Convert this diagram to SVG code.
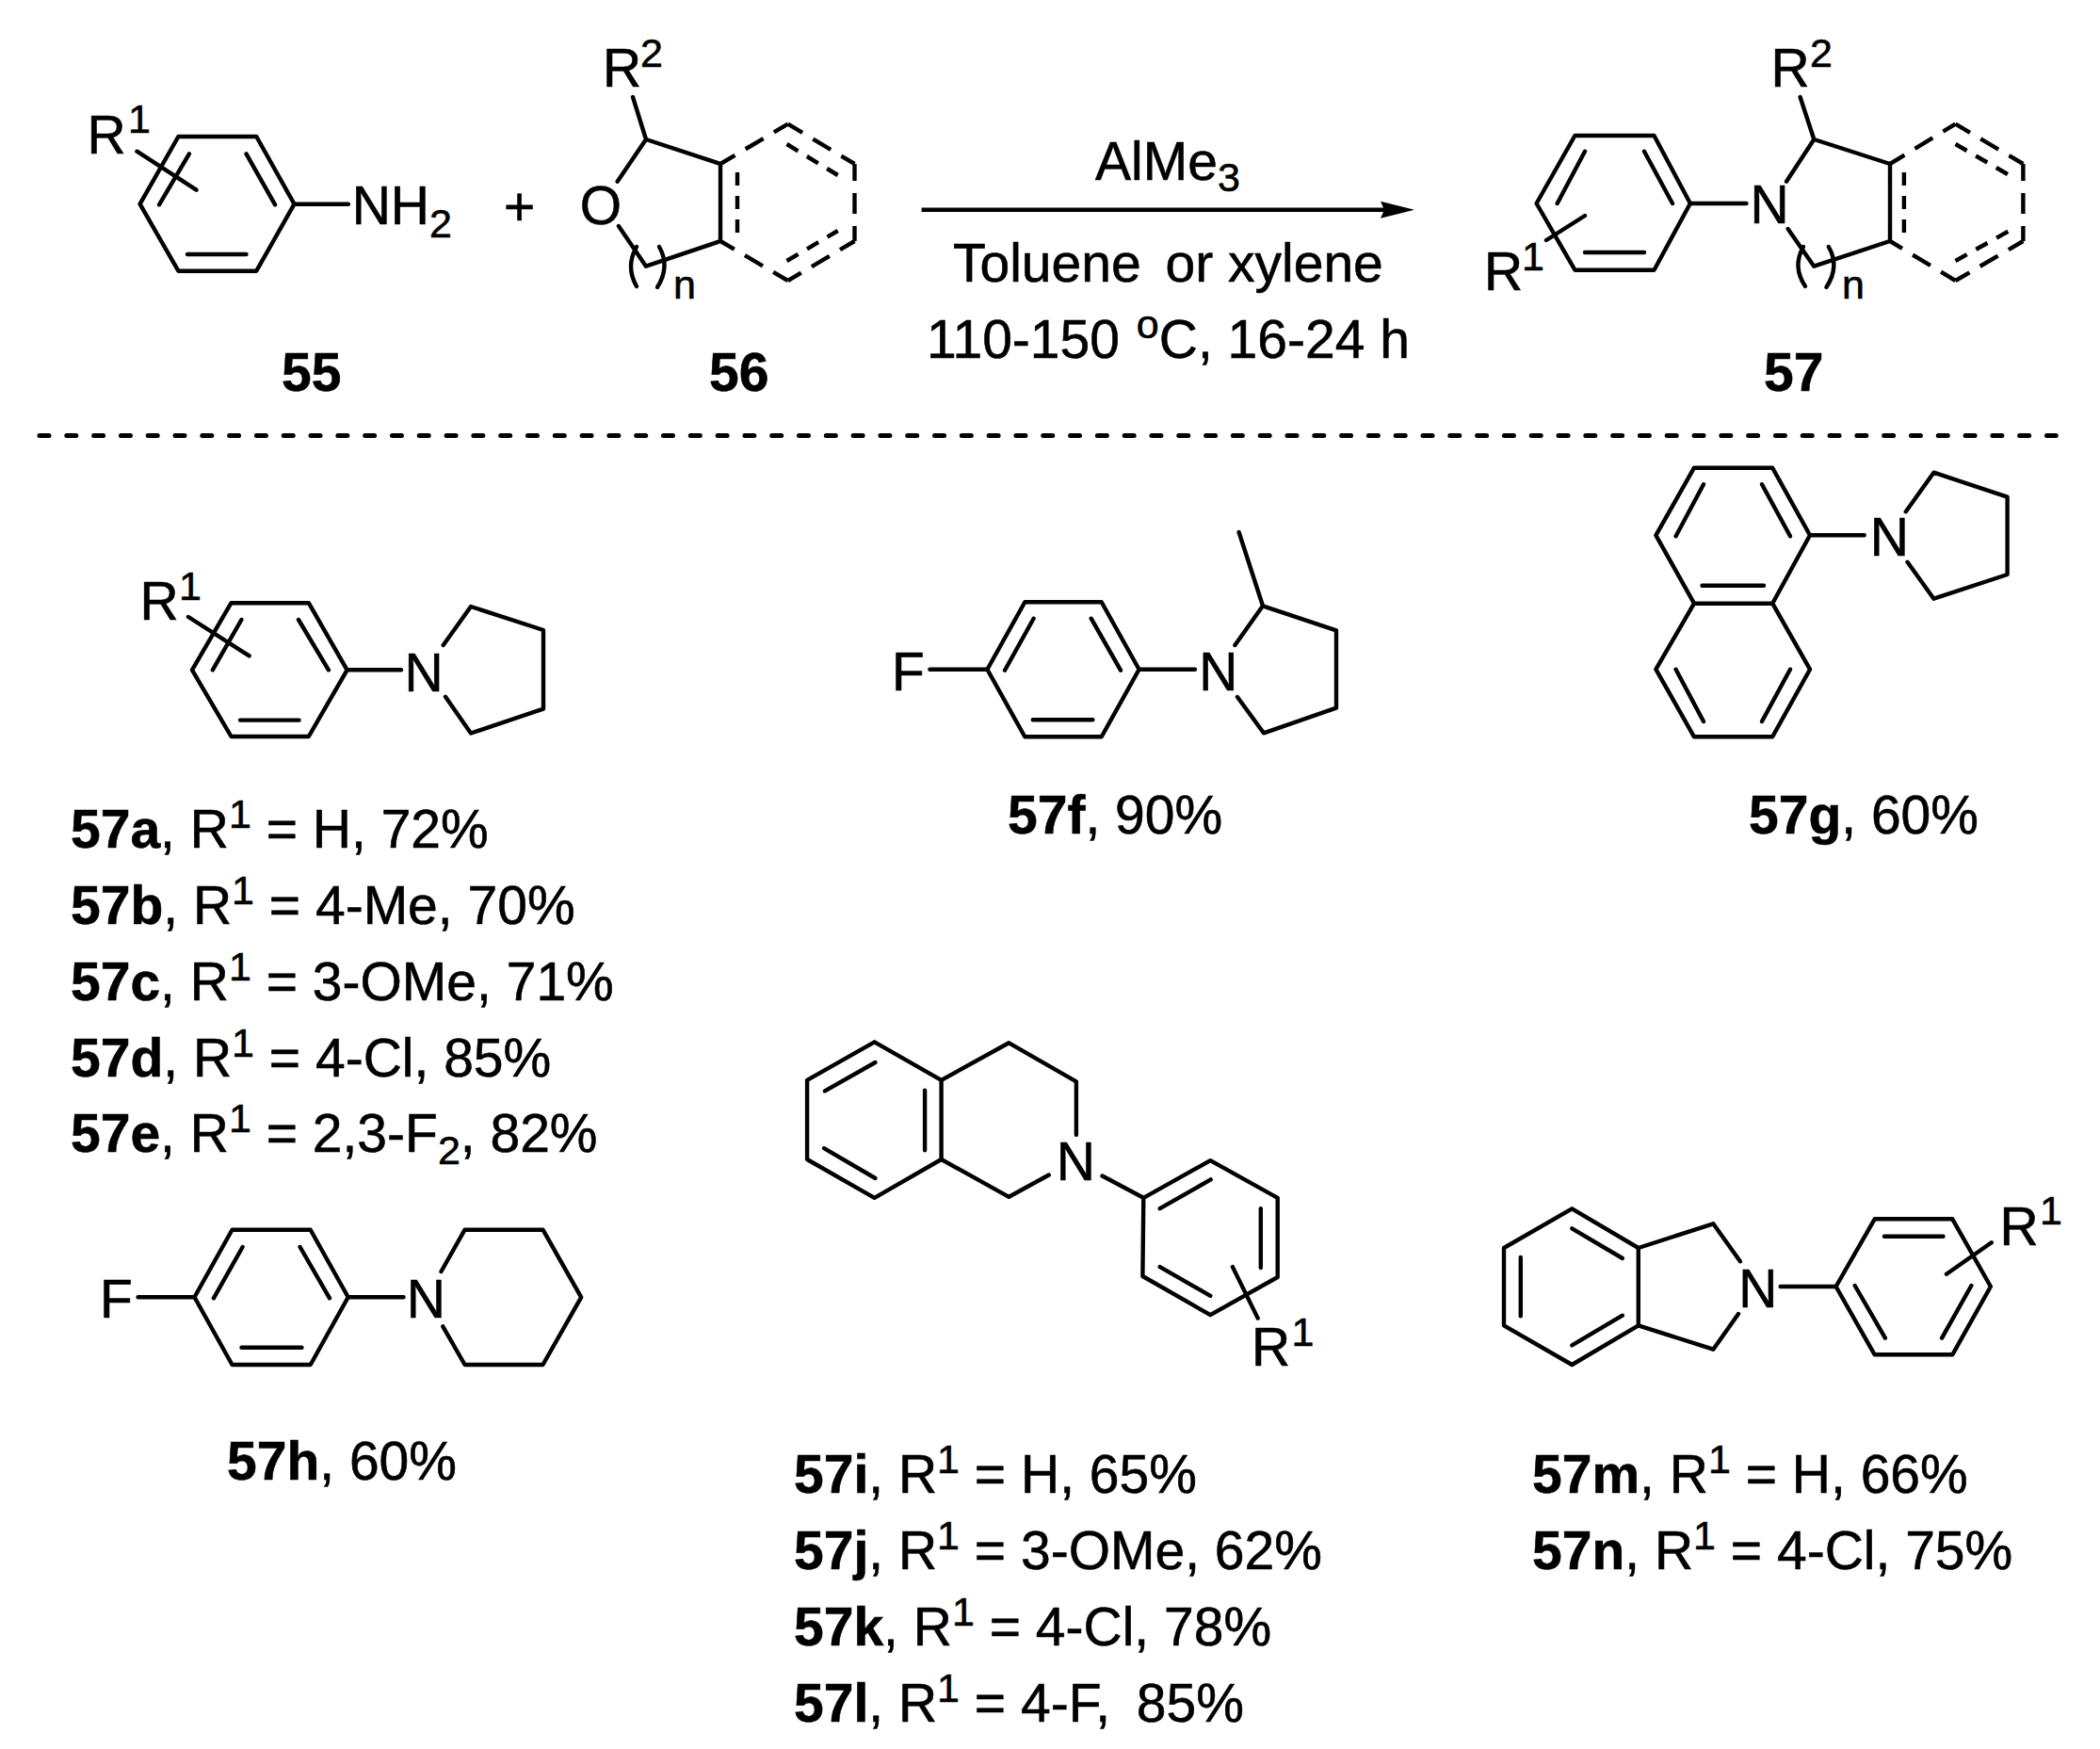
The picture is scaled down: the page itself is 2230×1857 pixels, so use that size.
<svg xmlns="http://www.w3.org/2000/svg" width="2230" height="1857" viewBox="0 0 2230 1857">
<style>
text{font-family:"Liberation Sans",Arial,sans-serif;font-size:57px;fill:#000;stroke:#000;stroke-width:.6}
.b{font-weight:700}
.s{font-size:43px}
path{fill:none;stroke:#000;stroke-width:4.4;stroke-linejoin:round;stroke-linecap:round}
.d{stroke-dasharray:18 13 22 13 18 0;stroke-linecap:butt}
.d2{stroke-dasharray:14 11;stroke-linecap:butt}
.sep{stroke-dasharray:10 18.804;stroke-linecap:round;stroke-width:5}
.arrow{stroke-width:4.4;stroke-linecap:butt}
.head{fill:#000;stroke:none}
</style>
<defs>
<marker id="ah" markerUnits="userSpaceOnUse" markerWidth="38" markerHeight="22" refX="4" refY="11" orient="auto"><path class="head" d="M0,2 L36,11 L0,20 L4,11 Z"/></marker>
</defs>
<rect width="2230" height="1857" fill="#fff"/>

<g id="connectors">
<path class="arrow" d="M978.6,222.7H1470" marker-end="url(#ah)"/>
<path class="sep" d="M42,462.5H2183.2"/>
</g>

<g id="compound-55">
<path d="M189.4,145H272.3L312.5,216.7L272.3,287.7H189.4L148.6,216.7Z"/>
<path d="M200.9,163.3L169,217.3M261.5,163.3L292.1,217.3M199,270H261.5M312.5,216.7H369.9M145.4,160.7L208.5,201.7"/>
<text x="92.6" y="163">R</text><text class="s" x="136" y="140.7">1</text>
<text x="373.7" y="238">NH</text><text class="s" x="456" y="251.7">2</text>
<text class="b" x="299" y="415">55</text>
</g>
<text id="plus" x="551.7" y="238.6" text-anchor="middle">+</text>

<g id="compound-56">
<text x="638" y="238" text-anchor="middle">O</text>
<text x="640" y="92">R</text><text class="s" x="680" y="70.7">2</text>
<path d="M672,103L686,148L765,174V256L686,282.7L656.9,240M686,148L655.6,192.7"/>
<path class="d" d="M765,174L836.7,131.7M836.7,131.7L907.5,174M907.5,174V256M907.5,256L836.7,298M836.7,298L765,256"/>
<path class="d2" d="M783,183V247M835.5,153L889.7,186M835.5,277L889.7,245"/>
<path d="M676,262Q664,283 676,304M700,262Q712,283 698,305"/>
<text class="s" x="715" y="317">n</text>
<text class="b" x="753" y="415">56</text>
</g>

<g id="conditions">
<text x="1163" y="190.7">AlMe</text><text class="s" x="1293" y="203.3">3</text>
<text x="1012" y="299">Toluene <tspan dx="10">or xylene</tspan></text>
<text x="984" y="380">110-150 <tspan class="s" dy="-21" dx="2">o</tspan><tspan dy="21">C, 16-24 h</tspan></text>
</g>

<g id="compound-57">
<path d="M1672.4,144H1756.5L1794.9,216L1756.5,286.7H1672.4L1631.6,216Z"/>
<path d="M1683,160.7L1653.7,216M1746,160.7L1776,216M1683,268H1746M1794.9,216H1854.5M1683,229L1642,255"/>
<text x="1858.5" y="237">N</text>
<text x="1576" y="308">R</text><text class="s" x="1616" y="286.7">1</text>
<text x="1880.5" y="92">R</text><text class="s" x="1922" y="70.7">2</text>
<path d="M1911.6,103L1926.3,148L2007,174V256L1926.3,282.7L1898.6,243M1926.3,148L1897,192.7"/>
<path class="d" d="M2007,174L2076.5,131.7M2076.5,131.7L2148.4,174M2148.4,174V256M2148.4,256L2076.5,298M2076.5,298L2007,256"/>
<path class="d2" d="M2021.9,183V247M2076.5,153L2133.7,186M2076.5,277L2133.7,245"/>
<path d="M1915,262Q1903,283 1917,304M1941.8,262Q1954,283 1939.4,305"/>
<text class="s" x="1956" y="317">n</text>
<text class="b" x="1873" y="415">57</text>
</g>

<g id="compound-57a-e">
<path d="M245.5,640.2H327.8L368.6,711.3L327.8,782H245.5L204,711.3Z"/>
<path d="M256.4,658L225.8,711.3M317,658L348.9,711.3M255,764.6H317.6M368.6,711.3H426M200,655L264.7,696.4"/>
<path d="M470.7,685L500,644L577,669V752.6L500,778.5L473,739.7"/>
<text x="429.5" y="733.7">N</text>
<text x="148.6" y="657.6">R</text><text class="s" x="190" y="636.7">1</text>
<text x="75" y="900"><tspan class="b">57a</tspan>, R<tspan class="s" dy="-21">1</tspan><tspan dy="21"> = H, 72%</tspan></text>
<text x="75" y="981"><tspan class="b">57b</tspan>, R<tspan class="s" dy="-21">1</tspan><tspan dy="21"> = 4-Me, 70%</tspan></text>
<text x="75" y="1061.6"><tspan class="b">57c</tspan>, R<tspan class="s" dy="-21">1</tspan><tspan dy="21"> = 3-OMe, 71%</tspan></text>
<text x="75" y="1142.7"><tspan class="b">57d</tspan>, R<tspan class="s" dy="-21">1</tspan><tspan dy="21"> = 4-Cl, 85%</tspan></text>
<text x="75" y="1223"><tspan class="b">57e</tspan>, R<tspan class="s" dy="-21">1</tspan><tspan dy="21"> = 2,3-F</tspan><tspan class="s" dy="13">2</tspan><tspan dy="-13">, 82%</tspan></text>
</g>

<g id="compound-57f">
<path d="M1088.3,639.3H1169.7L1209.6,710.7L1169.7,782.3H1088.3L1048.4,710.7Z"/>
<path d="M1097.6,656.7L1067,711.7M1158.7,656.7L1190,711.7M1096.8,764.3H1160.4M987.4,710.7H1048.4M1209.6,710.7H1269"/>
<path d="M1311.4,685L1341,643.3L1419,669.3V751.7L1341.9,778.3L1314,740M1341,643.3L1315.6,565"/>
<text x="947" y="733">F</text>
<text x="1273.2" y="733">N</text>
<text x="1070" y="885"><tspan class="b">57f</tspan>, 90%</text>
</g>

<g id="compound-57g">
<path d="M1799,496.7H1882.2L1922,568.3L1882.2,640.7H1799L1758.4,568.3ZM1799,640.7L1758.4,710.7L1799,782.3H1882.2L1922,710.7L1882.2,640.7"/>
<path d="M1809,514.3L1779.6,569.3M1871,514.3L1901,569.3M1807.5,621.7H1873M1779.6,710.7L1809,766M1901,710.7L1871,766M1922,568.3H1979.7"/>
<path d="M2023.8,543.3L2053.5,501.7L2131.6,527.7V610L2053.5,635.7L2025.5,596.7"/>
<text x="1985.8" y="590">N</text>
<text x="1857" y="885"><tspan class="b">57g</tspan>, 60%</text>
</g>

<g id="compound-57h">
<path d="M246.5,1305.7H329.7L369.7,1377.3L329.7,1449H246.5L206.5,1377.3Z"/>
<path d="M257.6,1324L226.9,1378.3M318.6,1324L350,1378.3M256.5,1430.7H320.5M146.6,1377.3H206.5M369.7,1377.3H428.5"/>
<path d="M468.5,1350L493.6,1305.7H576.5L617.2,1377.3L576.5,1449H493.6L470.3,1408.3"/>
<text x="106" y="1399.3">F</text>
<text x="431.7" y="1399.3">N</text>
<text x="241" y="1571"><tspan class="b">57h</tspan>, 60%</text>
</g>

<g id="compound-57i-l">
<path d="M928.6,1106.3L999.6,1146.9V1231L928.6,1271.8L857.1,1231V1146.9Z"/>
<path d="M929.5,1128L875.9,1158.3M982.1,1157.8V1221.2M929.5,1251L875,1219.2"/>
<path d="M999.6,1146.9L1071.4,1107.3L1142.9,1148.4V1204.9M999.6,1231L1071.4,1270.8L1113.8,1247.5M1170.5,1248.5L1214.3,1271.8"/>
<path d="M1214.3,1271.8L1285.3,1232.1L1356.7,1271.8V1356L1285.3,1396.2L1213.4,1355Z"/>
<path d="M1231.7,1283.2L1285.7,1252.4M1338.8,1283.2V1346.1M1231.7,1345.1L1285.3,1375.8M1308.9,1345.1L1335.7,1399.6"/>
<text x="1121.7" y="1253.4">N</text>
<text x="1329" y="1450">R</text><text class="s" x="1371.5" y="1429">1</text>
<text x="843" y="1584.5"><tspan class="b">57i</tspan>, R<tspan class="s" dy="-21">1</tspan><tspan dy="21"> = H, 65%</tspan></text>
<text x="843" y="1666"><tspan class="b">57j</tspan>, R<tspan class="s" dy="-21">1</tspan><tspan dy="21"> = 3-OMe, 62%</tspan></text>
<text x="843" y="1746.5"><tspan class="b">57k</tspan>, R<tspan class="s" dy="-21">1</tspan><tspan dy="21"> = 4-Cl, 78%</tspan></text>
<text x="843" y="1827.5"><tspan class="b">57l</tspan>, R<tspan class="s" dy="-21">1</tspan><tspan dy="21"> = 4-F, <tspan dx="12">85%</tspan></tspan></text>
</g>

<g id="compound-57m-n">
<path d="M1669.3,1283.3L1739.8,1325V1407.3L1669.3,1449L1597,1407.3V1325Z"/>
<path d="M1669.3,1304.3L1722.9,1336M1614.8,1335V1397.3M1669.3,1428.3L1722.9,1396.7"/>
<path d="M1739.8,1325L1819.3,1299.3L1847.9,1339.3M1739.8,1407.3L1819.3,1432.7L1846,1395M1890.7,1366H1949.6"/>
<path d="M1949.6,1366L1990.7,1294.3H2073.3L2113.9,1366L2073.3,1438.3H1990.7Z"/>
<path d="M2001,1312.7H2063.5M1969.7,1365L2001.9,1420.7M2093.4,1365L2062.1,1420.7M2114.8,1319.3L2067,1352.7"/>
<text x="1846.3" y="1388.3">N</text>
<text x="2123.6" y="1322.3">R</text><text class="s" x="2166" y="1300">1</text>
<text x="1627" y="1585"><tspan class="b">57m</tspan>, R<tspan class="s" dy="-21">1</tspan><tspan dy="21"> = H, 66%</tspan></text>
<text x="1627" y="1666"><tspan class="b">57n</tspan>, R<tspan class="s" dy="-21">1</tspan><tspan dy="21"> = 4-Cl, 75%</tspan></text>
</g>
</svg>
